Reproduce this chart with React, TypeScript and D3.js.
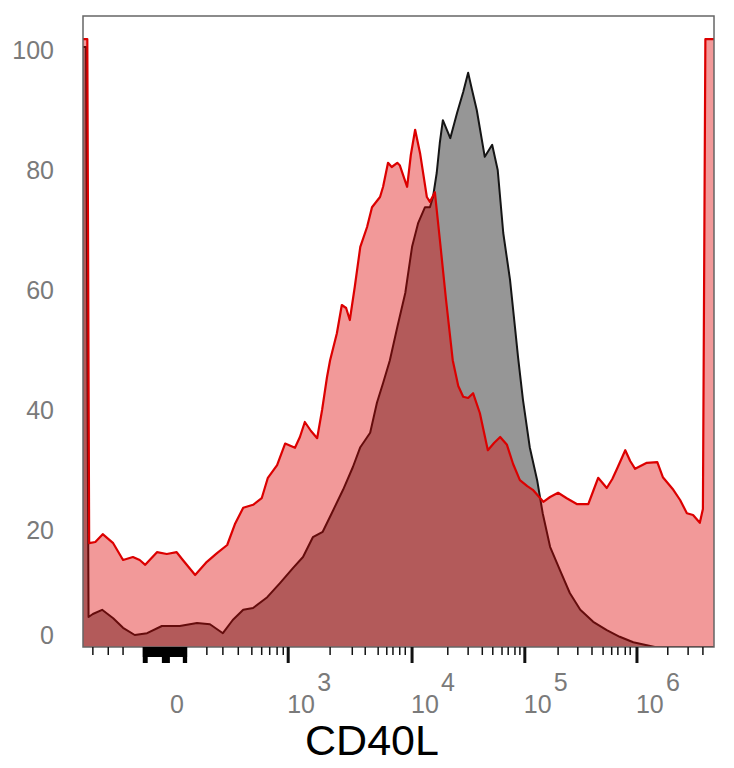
import * as d3 from 'd3';

// histogram values: [channel (0-1024 display scale), % of max]
const stimulated: [number, number][] = [
  [0, 101.3], [3, 101.3], [7, 101.3], [10, 17.3], [20, 17.5], [32, 18.8], [49, 17.3], [65, 14.5],
  [81, 15], [92, 14.5], [101, 13.7], [120, 15.8], [136, 15.5], [152, 15.8], [162, 14.5], [182, 12],
  [201, 14.2], [217, 15.6], [234, 17], [247, 20.6], [260, 23.2], [276, 23.7], [290, 24.8], [300, 28.2],
  [315, 30.3], [328, 33.9], [344, 33.2], [352, 35], [360, 37.5], [370, 36], [380, 34.8], [388, 39.5],
  [396, 45], [401, 47.8], [412, 52.3], [420, 57], [427, 56.5], [433, 54.5], [441, 60], [450, 66.7],
  [461, 70], [469, 73.3], [482, 75], [487, 76.7], [495, 80.7], [501, 80], [510, 80.7], [514, 80.3],
  [526, 76.7], [532, 82], [539, 86.2], [547, 82.3], [558, 75], [563, 74.2], [571, 75.8], [579, 68],
  [589, 58], [600, 47.8], [609, 43.5], [617, 41.7], [625, 41.5], [633, 42.3], [644, 39], [657, 32.8],
  [667, 34], [677, 35], [688, 33.7], [698, 30.5], [709, 27.8], [721, 26.8], [730, 26.2], [747, 24.2],
  [758, 25], [771, 25.7], [785, 24.8], [802, 23.8], [820, 23.8], [828, 26], [836, 28.2], [850, 26.5],
  [859, 28], [867, 29.8], [880, 32.8], [888, 31], [896, 29.7], [915, 30.7], [932, 30.8], [941, 28.3],
  [958, 26.2], [969, 24.5], [980, 22.3], [990, 22], [1001, 20.7], [1006, 23], [1010, 101.3], [1024, 101.3],
];

const control: [number, number][] = [
  [0, 100], [5, 100], [9, 5], [16, 5.5], [31, 6.2], [49, 4.8], [65, 3.2], [84, 2], [104, 2.3],
  [128, 3.5], [157, 3.5], [185, 4], [206, 3.8], [227, 2.3], [243, 4.5], [260, 6.2], [276, 6.5],
  [299, 8.3], [320, 10.7], [341, 13.2], [357, 15], [373, 18.3], [389, 19.2], [406, 22.8], [422, 26.2],
  [438, 30], [450, 33.3], [466, 35.7], [477, 40.7], [487, 44], [498, 47.8], [510, 53.3], [523, 59],
  [534, 66.7], [544, 70.7], [555, 73.3], [563, 73.3], [568, 75], [574, 79], [579, 84], [584, 87.8],
  [596, 84.8], [607, 89], [617, 92.5], [625, 95.7], [631, 93], [639, 89.5], [652, 81.7], [664, 83.7],
  [673, 79.5], [682, 69], [693, 61.2], [701, 53.3], [706, 48.3], [714, 41.2], [725, 33.3], [737, 27.8],
  [746, 22.3], [758, 16.7], [774, 12.8], [790, 9], [807, 6.2], [828, 4.2], [850, 2.8], [871, 1.7],
  [893, 0.8], [915, 0.3], [928, 0], [1024, 0],
];

const yTicks = [0, 20, 40, 60, 80, 100];

const decades = [
  { ch: 143, base: '0', exp: '' },
  { ch: 333, base: '10', exp: '3' },
  { ch: 534, base: '10', exp: '4' },
  { ch: 717, base: '10', exp: '5' },
  { ch: 899, base: '10', exp: '6' },
];

const minorTicks = [
  16, 41, 65,
  201, 227, 252, 274, 290, 303, 315, 325,
  401, 437, 458, 479, 493, 503, 514, 523,
  592, 625, 648, 665, 680, 690, 701, 709,
  771, 803, 826, 844, 858, 868, 880, 888,
  949, 982, 1006,
];

// dense linear-region ticks around zero (they merge into a solid block)
const denseSpan: [number, number] = [97, 169];
const denseLong: [number, number][] = [[97, 105], [128, 141], [162, 169]];

const axisTitle = 'CD40L';

const W = 734;
const H = 768;
const plot = { left: 83, right: 714, top: 16, bottom: 647 };

export default function App() {
  const x = d3.scaleLinear().domain([0, 1024]).range([plot.left, plot.right]);
  const y = d3.scaleLinear().domain([0, 100]).range([plot.bottom, 47]);

  const area = d3.area<[number, number]>()
    .x(d => x(d[0]))
    .y0(y(0))
    .y1(d => y(d[1]));
  const line = d3.line<[number, number]>()
    .x(d => x(d[0]))
    .y(d => y(d[1]));

  const labelFont = '"Liberation Sans", Arial, sans-serif';

  return (
    <svg
      width={W}
      height={H}
      style={{ position: 'absolute', left: 0, top: 0, background: 'white' }}
    >
      <defs>
        <clipPath id="plotClip">
          <rect x={plot.left} y={plot.top} width={plot.right - plot.left} height={plot.bottom - plot.top} />
        </clipPath>
      </defs>

      <g clipPath="url(#plotClip)">
        <path d={area(control) || ''} fill="#969696" />
        <path d={line(control) || ''} fill="none" stroke="#151515" strokeWidth={2} strokeLinejoin="round" />
        <path d={area(stimulated) || ''} fill="rgb(222,0,0)" fillOpacity={0.4} />
        <path d={line(stimulated) || ''} fill="none" stroke="#dc0000" strokeWidth={2.2} strokeLinejoin="round" />
      </g>

      <rect
        x={plot.left}
        y={plot.top}
        width={plot.right - plot.left}
        height={plot.bottom - plot.top}
        fill="none"
        stroke="#666"
        strokeWidth={1.5}
      />

      {/* y labels */}
      {yTicks.map(v => (
        <text
          key={v}
          x={54}
          y={Math.min(y(v) + 12, 644)}
          textAnchor="end"
          fontFamily={labelFont}
          fontSize={25}
          fill="#7a7a7a"
        >
          {v}
        </text>
      ))}

      {/* x ticks */}
      <g stroke="#111">
        {minorTicks.map(c => (
          <line key={'m' + c} x1={x(c)} x2={x(c)} y1={plot.bottom} y2={plot.bottom + 8} strokeWidth={1.5} />
        ))}
        {decades.filter(d => d.exp).map(d => (
          <line key={'M' + d.ch} x1={x(d.ch)} x2={x(d.ch)} y1={plot.bottom} y2={plot.bottom + 16} strokeWidth={3} />
        ))}
      </g>
      <g fill="#000">
        <rect
          x={x(denseSpan[0])}
          y={plot.bottom}
          width={x(denseSpan[1]) - x(denseSpan[0])}
          height={10}
        />
        {denseLong.map(([a, b]) => (
          <rect key={'L' + a} x={x(a)} y={plot.bottom} width={x(b) - x(a)} height={16} />
        ))}
      </g>

      {/* x labels */}
      {decades.map(d => (
        <g key={'l' + d.ch} fontFamily={labelFont} fontSize={25} fill="#7a7a7a">
          <text x={x(d.ch) - 1} y={713}>{d.base}</text>
          {d.exp && <text x={x(d.ch) + 29} y={691}>{d.exp}</text>}
        </g>
      ))}

      <text
        x={372}
        y={755}
        textAnchor="middle"
        fontFamily={labelFont}
        fontSize={43}
        fill="#000"
      >
        {axisTitle}
      </text>
    </svg>
  );
}
